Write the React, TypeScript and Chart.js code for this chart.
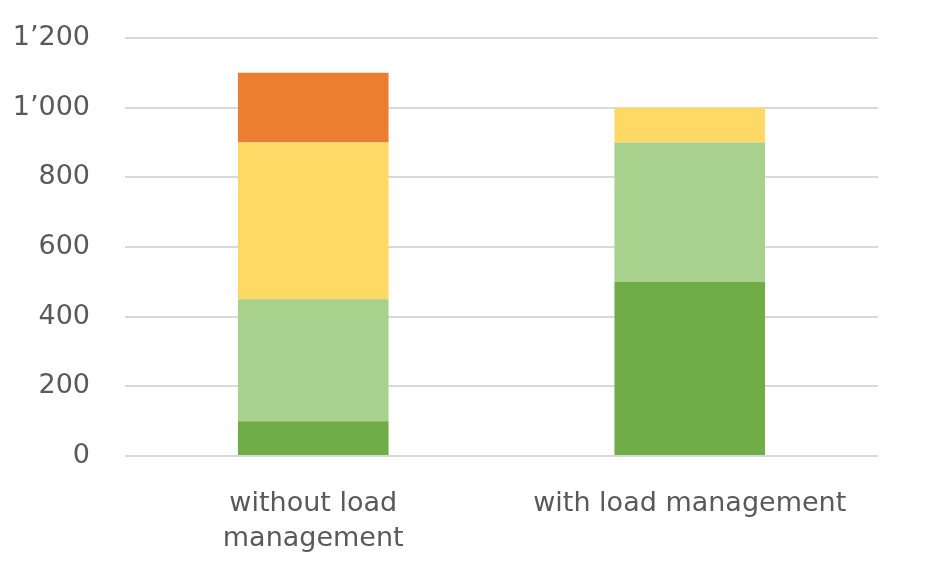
import React, { useEffect, useRef } from "react";
import { Chart, registerables } from "chart.js";

Chart.register(...registerables);

const categories: string[][] = [["without load", "management"], ["with load management"]];
const seriesDarkGreen = [100, 500];
const seriesLightGreen = [350, 400];
const seriesYellow = [450, 100];
const seriesOrange = [200, 0];
const yTicks = [0, 200, 400, 600, 800, 1000, 1200];

const fmt = (v: number) => {
  const s = String(Math.round(v));
  return s.replace(/\B(?=(\d{3})+(?!\d))/g, "\u2019");
};

export default function App() {
  const ref = useRef<HTMLCanvasElement | null>(null);
  useEffect(() => {
    if (!ref.current) return;
    const font = { family: "'DejaVu Sans', sans-serif", size: 27 };
    const chart = new Chart(ref.current, {
      type: "bar",
      data: {
        labels: categories,
        datasets: [
          { label: "a", data: seriesDarkGreen, backgroundColor: "#70AD47" },
          { label: "b", data: seriesLightGreen, backgroundColor: "#A9D18E" },
          { label: "c", data: seriesYellow, backgroundColor: "#FFD966" },
          { label: "d", data: seriesOrange, backgroundColor: "#ED7D31" },
        ],
      },
      options: {
        animation: false,
        responsive: false,
        layout: { padding: { top: 38, right: 73, bottom: 0, left: 0 } },
        datasets: { bar: { categoryPercentage: 1, barPercentage: 0.4 } },
        plugins: { legend: { display: false }, tooltip: { enabled: false } },
        scales: {
          x: {
            stacked: true,
            grid: { display: false, drawTicks: false },
            border: { display: false },
            ticks: { color: "#595959", font: { ...font, lineHeight: 1.3 }, padding: 30, maxRotation: 0 },
            afterFit: (s: any) => { s.height = 129; s.paddingLeft = 0; s.paddingRight = 0; },
          },
          y: {
            stacked: true,
            min: 0,
            max: 1200,
            afterBuildTicks: (s: any) => { s.ticks = yTicks.map((v) => ({ value: v })); },
            grid: { color: "#D9D9D9", lineWidth: 2, drawTicks: false },
            border: { display: false },
            ticks: { color: "#595959", font, padding: 35, callback: (v: any) => fmt(Number(v)) },
            afterFit: (s: any) => { s.width = 125; s.paddingTop = 0; s.paddingBottom = 0; },
          },
        },
      },
    });
    return () => chart.destroy();
  }, []);
  return (
    <div style={{ position: "absolute", left: 0, top: 0, width: 951, height: 585, background: "#fff" }}>
      <canvas ref={ref} width={951} height={585} />
    </div>
  );
}
